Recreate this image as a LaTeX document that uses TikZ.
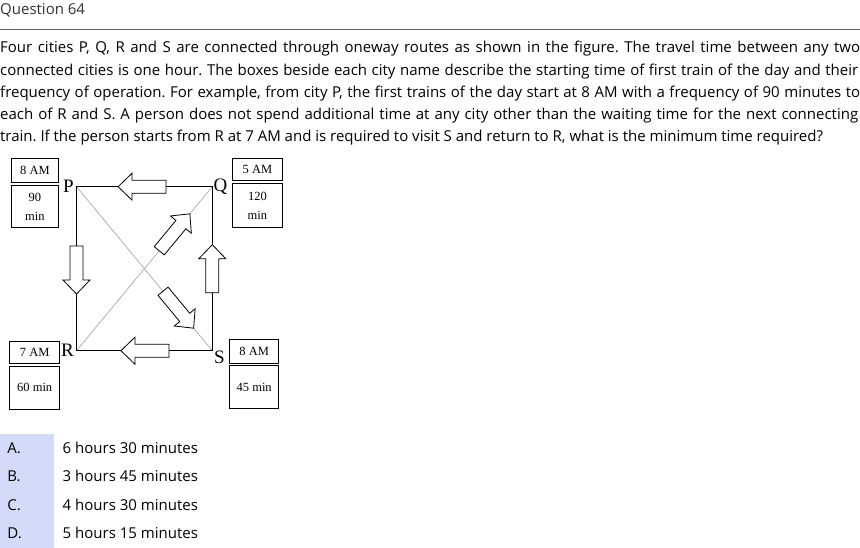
\documentclass[tikz,border=0pt]{standalone}
\usepackage{fontspec}
\setmainfont{Open Sans}
\newfontfamily\diagfont{Liberation Serif}
\usetikzlibrary{positioning, calc}
\frenchspacing

\definecolor{rulecol}{HTML}{1F74BC}
\definecolor{optcol}{HTML}{D3DBF8}
\definecolor{titlecol}{HTML}{333333}

\tikzset{
    blockarrow/.pic={
        \draw[fill=white, line width=0.8pt] (-24,-6.5) -- (10,-6.5) -- (10,-13.5) -- (24,0)
            -- (10,13.5) -- (10,6.5) -- (-24,6.5) -- cycle;
    }
}

\begin{document}
\begin{tikzpicture}[x=1pt, y=-1pt,
    bodyline/.style={anchor=base west, inner sep=0pt, font=\fontsize{15}{18}\selectfont},
    cityname/.style={inner sep=0pt, font=\diagfont\fontsize{19}{19}\selectfont},
    timecell/.style={draw, line width=0.8pt, inner sep=0pt, anchor=north west, align=center,
        font=\diagfont\fontsize{12.5}{19}\selectfont},
    route/.style={line width=0.9pt},
    diagroute/.style={draw=gray!75, line width=0.6pt}
]
\useasboundingbox (0,0) rectangle (860,548);

% question text
\node[bodyline, text=titlecol] (title) at (0,15) {Question 64};
\draw[rulecol, line width=1.2pt] (0,29.5) -- (860,29.5);

\node[bodyline] (l1) at (0,53) {\makebox[860pt][s]{Four cities P, Q, R and S are connected through oneway routes as shown in the figure. The travel time between any two}};
\node[bodyline] (l2) at (0,75.1) {\makebox[858pt][s]{connected cities is one hour. The boxes beside each city name describe the starting time of first train of the day and their}};
\node[bodyline] (l3) at (0,97.2) {\makebox[860pt][s]{frequency of operation. For example, from city P, the first trains of the day start at 8 AM with a frequency of 90 minutes to}};
\node[bodyline] (l4) at (0,119.3) {\makebox[858pt][s]{each of R and S. A person does not spend additional time at any city other than the waiting time for the next connecting}};
\node[bodyline] (l5) at (0,141.4) {train. If the person starts from R at 7 AM and is required to visit S and return to R, what is the minimum time required?};

% cities
\coordinate (P) at (76.5,186.7);
\coordinate (Q) at (212.3,186.7);
\coordinate (R) at (76.5,350.7);
\coordinate (S) at (212.3,350.7);

\node[cityname](lP)[left = 2.5pt of P]{P};
\node[cityname](lQ)[right = 1pt of Q]{Q};
\node[cityname](lR)[left = 2.5pt of R]{R};
\node[cityname](lS)[below right = 0.5pt and 1.5pt of S]{S};

\draw[diagroute] (P) -- (S);
\draw[diagroute] (R) -- (Q);
\draw[route] (P) -- (Q) -- (S) -- (R) -- cycle;

% one way routes
\path (Q) -- (P) pic[pos=0.517, sloped, allow upside down]{blockarrow};
\path (P) -- (R) pic[pos=0.508, sloped, allow upside down]{blockarrow};
\path (S) -- (Q) pic[pos=0.5, sloped, allow upside down]{blockarrow};
\path (S) -- (R) pic[pos=0.496, sloped, allow upside down]{blockarrow};
\path (R) -- (Q) pic[pos=0.722, sloped, allow upside down]{blockarrow};
\path (P) -- (S) pic[pos=0.75, sloped, allow upside down]{blockarrow};

% first train and frequency
\node[timecell, minimum width=46.5pt, minimum height=24.5pt] (ptime) at (11.3,157.7) {8 AM};
\node[timecell, minimum width=46.5pt, minimum height=42pt, below = 2pt of ptime] (pfreq) {90\\min};

\node[timecell, minimum width=49.5pt, minimum height=22.5pt] (qtime) at (232.3,157.7) {5 AM};
\node[timecell, minimum width=49.5pt, minimum height=44pt, below = 2pt of qtime] (qfreq) {120\\min};

\node[timecell, minimum width=50pt, minimum height=22pt] (rtime) at (9.3,340.7) {7 AM};
\node[timecell, minimum width=50pt, minimum height=43pt, below = 2pt of rtime] (rfreq) {60 min};

\node[timecell, minimum width=49pt, minimum height=24pt] (stime) at (229.3,339.3) {8 AM};
\node[timecell, minimum width=49pt, minimum height=43pt, below = 1pt of stime] (sfreq) {45 min};

% answer options
\fill[optcol] (0,434) rectangle (54,548);
\foreach \lab/\txt [count=\i] in {A./6 hours 30 minutes, B./3 hours 45 minutes, C./4 hours 30 minutes, D./5 hours 15 minutes}{
    \node[bodyline] (opt\i) at (7.3,{453.5+28.4*(\i-1)}) {\lab};
    \node[bodyline] (ans\i) at (62.5,{453.5+28.4*(\i-1)}) {\txt};
}
\end{tikzpicture}
\end{document}
